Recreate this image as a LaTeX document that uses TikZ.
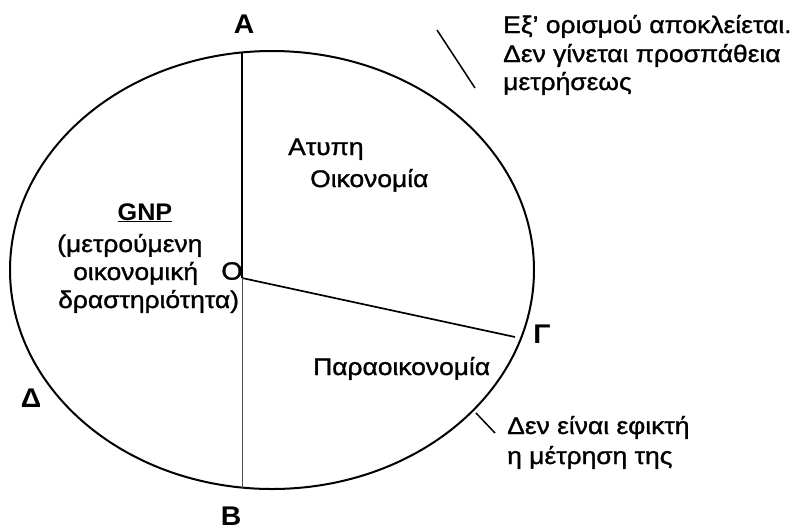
\documentclass[tikz,border=0pt]{standalone}
\usepackage{fontspec}
\setmainfont{Liberation Sans}[FakeStretch=1.1,FakeBold=1.2]
\newfontfamily\lblfont{Liberation Sans}[FakeStretch=1.05]
\begin{document}
\begin{tikzpicture}[x=1pt,y=-1pt,
  txt/.style={inner sep=0pt,anchor=base west,font=\fontsize{24}{28}\selectfont},
  ptlabel/.style={inner sep=0pt,anchor=center,font=\lblfont\bfseries\fontsize{27}{30}\selectfont},
  boundary/.style={line width=2pt},
  radius line/.style={line width=1.7pt},
  thin radius/.style={line width=0.8pt,black!70},
  pointer/.style={line width=1.5pt}]
\useasboundingbox (0,0) rectangle (796,531);
% ellipse
\draw[boundary] (272,270) ellipse [x radius=262, y radius=219];
% points
\coordinate (Aon) at (242,51.5);
\coordinate (O) at (242,278);
\coordinate (Gon) at (515,337);
\coordinate (Bon) at (242,488.5);
\draw[radius line] (Aon) -- (O);
\draw[radius line] (O) -- (Gon);
\draw[thin radius] (O) -- (Bon);
% point labels
\node[ptlabel] (A) at (244,24) {A};
\node[ptlabel] (B) at (231,516) {B};
\node[ptlabel] (G) at (542,334) {Γ};
\node[ptlabel] (D) at (31,398) {Δ};
\node[inner sep=0pt,font=\fontsize{25}{28}\selectfont] (Olbl) at (232,271) {O};
% region texts
\node[txt] (at1) at (288,155) {Ατυπη};
\node[txt] (at2) at (310,187) {Οικονομία};
\node[txt] (par) at (313,375) {Παραοικονομία};
\node[inner sep=0pt,anchor=base,font=\lblfont\bfseries\fontsize{24}{28}\selectfont] (gnp) at (145,220) {\underline{GNP}};
\node[txt] (g1) at (57,252) {(μετρούμενη};
\node[txt] (g2) at (73,280) {οικονομική};
\node[txt] (g3) at (58,308) {δραστηριότητα)};
% annotations
\node[txt] (n1) at (503,33) {Εξ’ ορισμού αποκλείεται.};
\node[txt] (n2) at (503,62) {Δεν γίνεται προσπάθεια};
\node[txt] (n3) at (503,90) {μετρήσεως};
\node[txt] (m1) at (507,434) {Δεν είναι εφικτή};
\node[txt] (m2) at (507,464) {η μέτρηση της};
\coordinate (p1a) at (437,30);
\coordinate (p1b) at (475,88);
\coordinate (p2a) at (476,413);
\coordinate (p2b) at (495,433);
\draw[pointer] (p1a) -- (p1b);
\draw[pointer] (p2a) -- (p2b);
\end{tikzpicture}
\end{document}
